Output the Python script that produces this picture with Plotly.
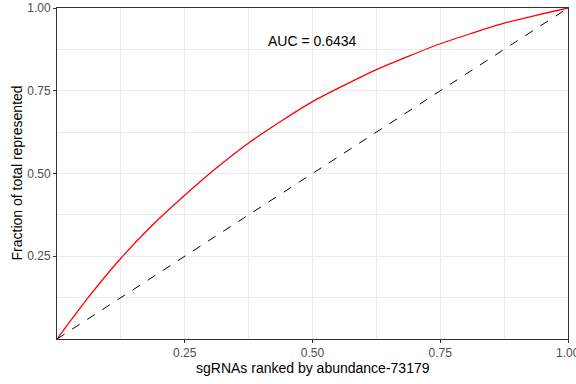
import plotly.graph_objects as go

# Cumulative representation curve
rank_frac = [0, 0.0625, 0.125, 0.1875, 0.25, 0.3125, 0.375, 0.4375, 0.5,
             0.5625, 0.625, 0.6875, 0.75, 0.8125, 0.875, 0.9375, 1.0]
cum_frac = [0, 0.128, 0.244, 0.345, 0.434, 0.517, 0.592, 0.657, 0.717,
            0.767, 0.814, 0.854, 0.892, 0.924, 0.954, 0.978, 1.0]

diag_x = [0, 1]
diag_y = [0, 1]

tick_vals = [0.25, 0.5, 0.75, 1.0]
tick_text = ["0.25", "0.50", "0.75", "1.00"]
auc_label = "AUC = 0.6434"
x_title = "sgRNAs ranked by abundance-73179"
y_title = "Fraction of total represented"

FONT = "Liberation Sans, Arial"

fig = go.Figure()
fig.add_trace(go.Scatter(x=rank_frac, y=cum_frac, mode="lines",
                         line=dict(color="#FF0000", width=1.3, shape="spline", smoothing=0.8),
                         showlegend=False, hoverinfo="skip"))
fig.add_trace(go.Scatter(x=diag_x, y=diag_y, mode="lines",
                         line=dict(color="black", width=1, dash="dash"),
                         showlegend=False, hoverinfo="skip"))

fig.add_annotation(x=0.5, y=0.9, text=auc_label, showarrow=False,
                   font=dict(family=FONT, size=14, color="black"))
fig.add_annotation(x=0.5, y=0, xref="paper", yref="paper", yshift=-29,
                   text=x_title, showarrow=False, yanchor="middle",
                   font=dict(family=FONT, size=14, color="black"))
fig.add_annotation(x=0, y=0.5, xref="paper", yref="paper", xshift=-41,
                   text=y_title, showarrow=False, textangle=-90, xanchor="center",
                   font=dict(family=FONT, size=14, color="black"))
# last x tick label (partly beyond the right edge, as in the reference)
fig.add_annotation(x=tick_vals[-1], y=0, xref="x", yref="paper", yshift=-14,
                   text=tick_text[-1], showarrow=False, yanchor="middle", xanchor="center",
                   font=dict(family=FONT, size=12, color="#4D4D4D"))

axis_common = dict(
    range=[0, 1], tickvals=tick_vals, ticktext=tick_text,
    showgrid=True, gridcolor="#EBEBEB", gridwidth=1,
    minor=dict(tickvals=[0.125, 0.375, 0.625, 0.875], showgrid=True,
               gridcolor="#EBEBEB", gridwidth=0.5, ticks=""),
    showline=True, linecolor="#333333", linewidth=1, mirror=True,
    ticks="outside", ticklen=3, tickcolor="#333333", tickwidth=1,
    tickfont=dict(family=FONT, size=12, color="#4D4D4D"),
    zeroline=False, automargin=False,
)

fig.update_layout(
    width=576, height=384,
    margin=dict(l=57, r=8, t=8, b=45),
    paper_bgcolor="white", plot_bgcolor="white",
    xaxis=dict(axis_common),
    yaxis=dict(axis_common),
)

fig.write_html("out.html", config={"displayModeBar": False},
               post_script="document.body.style.margin='0';")
